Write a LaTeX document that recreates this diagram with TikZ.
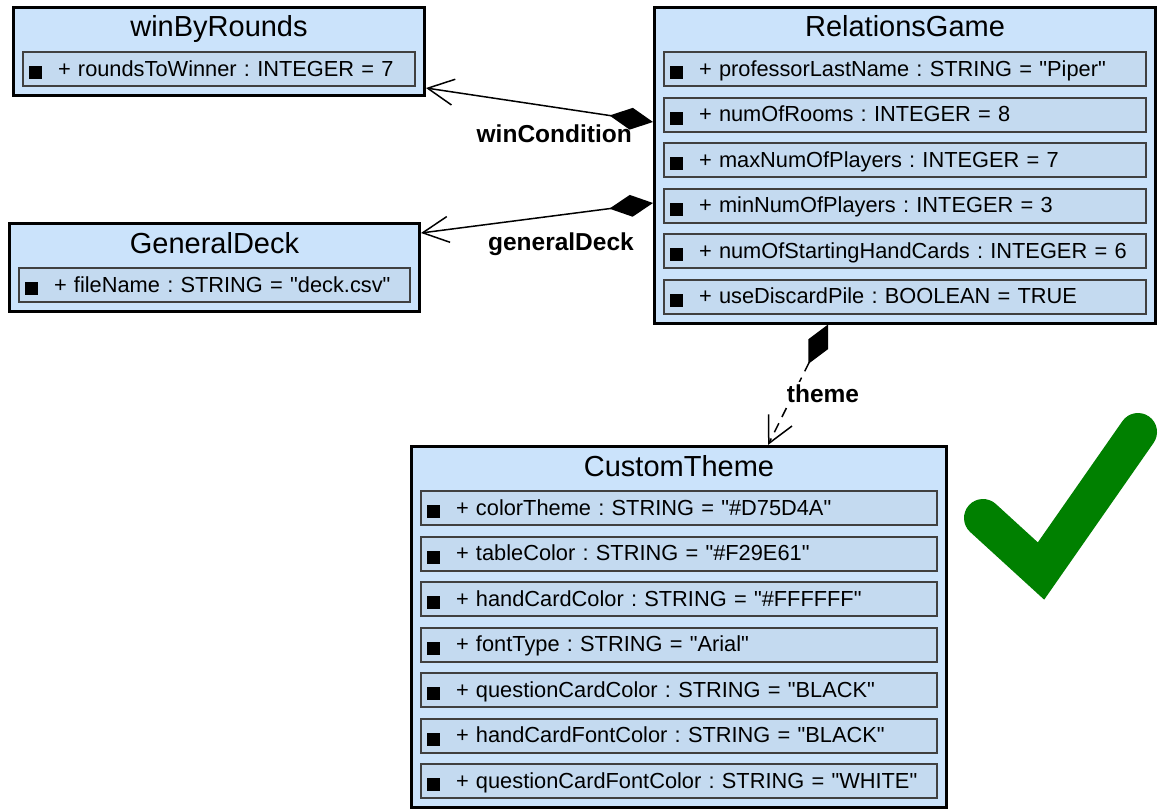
\documentclass[tikz,border=0pt]{standalone}
\usepackage{fontspec}
\setmainfont{Liberation Sans}[Ligatures=TeXOff]
\usetikzlibrary{arrows.meta}

\definecolor{classfill}{RGB}{203,227,251}
\definecolor{rowfill}{RGB}{196,218,240}
\definecolor{rowline}{RGB}{64,64,64}
\definecolor{tickgreen}{RGB}{0,128,0}

\newcommand\titlefont{\fontsize{29}{34}\selectfont}
\newcommand\fieldfont{\fontsize{21.8}{26}\selectfont}
\newcommand\rolefont{\bfseries\fontsize{24.5}{28}\selectfont}
\newcommand\fieldmark{\rule[-3pt]{13pt}{13pt}\hspace{16pt}}

\tikzset{
  classbox/.style={draw=black, line width=3pt, fill=classfill, inner sep=0pt, anchor=north west},
  classtitle/.style={font=\titlefont, inner sep=0pt, anchor=base},
  fieldrow/.style={draw=rowline, line width=2pt, fill=rowfill, anchor=north west,
    inner xsep=6pt, inner ysep=0pt, minimum height=34pt,
    text height=17pt, text depth=3pt, align=left, font=\fieldfont\frenchspacing},
  role/.style={font=\rolefont, inner sep=0pt},
  assoc/.style={line width=1.5pt,
    arrows={Diamond[length=44pt,width=22pt]-Straight Barb[length=26pt,width=26pt]}}
}

\begin{document}
\begin{tikzpicture}[x=1pt,y=-1pt]
  \path[use as bounding box, fill=white] (0,0) rectangle (1158,808);

  % winByRounds
  \node[classbox, minimum width=411pt, minimum height=88pt] (winByRounds) at (12,6) {};
  \node[classtitle] (winByRoundsTitle) at (219,37) {winByRounds};
  \node[fieldrow, text width=380pt] (wbr1) at (22,51) {\fieldmark+ roundsToWinner : INTEGER = 7};

  % GeneralDeck
  \node[classbox, minimum width=410pt, minimum height=88pt] (GeneralDeck) at (8,222) {};
  \node[classtitle] (GeneralDeckTitle) at (214.5,253) {GeneralDeck};
  \node[fieldrow, text width=379pt] (gd1) at (18,267) {\fieldmark+ fileName : STRING = "deck.csv"};

  % RelationsGame
  \node[classbox, minimum width=501pt, minimum height=315.5pt] (RelationsGame) at (653,6) {};
  \node[classtitle] (RelationsGameTitle) at (905,37) {RelationsGame};
  \foreach \field [count=\i] in {
      professorLastName : STRING = "Piper",
      numOfRooms : INTEGER = 8,
      maxNumOfPlayers : INTEGER = 7,
      minNumOfPlayers : INTEGER = 3,
      numOfStartingHandCards : INTEGER = 6,
      useDiscardPile : BOOLEAN = TRUE}
    \node[fieldrow, text width=470pt] (rg\i) at ({663},{51+45.5*(\i-1)}) {\fieldmark+ \field};

  % CustomTheme
  \node[classbox, minimum width=535pt, minimum height=361pt] (CustomTheme) at (410,445) {};
  \node[classtitle] (CustomThemeTitle) at (679,476) {CustomTheme};
  \foreach \field [count=\i] in {
      colorTheme : STRING = "\#D75D4A",
      tableColor : STRING = "\#F29E61",
      handCardColor : STRING = "\#FFFFFF",
      fontType : STRING = "Arial",
      questionCardColor : STRING = "BLACK",
      handCardFontColor : STRING = "BLACK",
      questionCardFontColor : STRING = "WHITE"}
    \node[fieldrow, text width=504pt] (ct\i) at ({420},{490+45.5*(\i-1)}) {\fieldmark+ \field};

  % associations
  \draw[assoc] ([yshift=-116pt]RelationsGame.north west) -- ([yshift=9pt]winByRounds.south east);
  \node[role, anchor=base east] (winConditionLbl) at (632,142) {winCondition};

  \draw[assoc] ([yshift=-197pt]RelationsGame.north west) -- ([yshift=-11pt]GeneralDeck.north east);
  \node[role, anchor=base east] (generalDeckLbl) at (634,250) {generalDeck};

  \draw[assoc, dash pattern=on 10pt off 7pt] ([xshift=-77pt]RelationsGame.south) -- ([xshift=89pt]CustomTheme.north);
  \node[role, anchor=base, fill=white, inner sep=2pt] (themeLbl) at (823,402) {theme};

  % tick
  \draw[tickgreen, line width=38pt, line cap=round, line join=miter]
    (983,518) -- (1041,571) -- (1138,432);
\end{tikzpicture}
\end{document}
